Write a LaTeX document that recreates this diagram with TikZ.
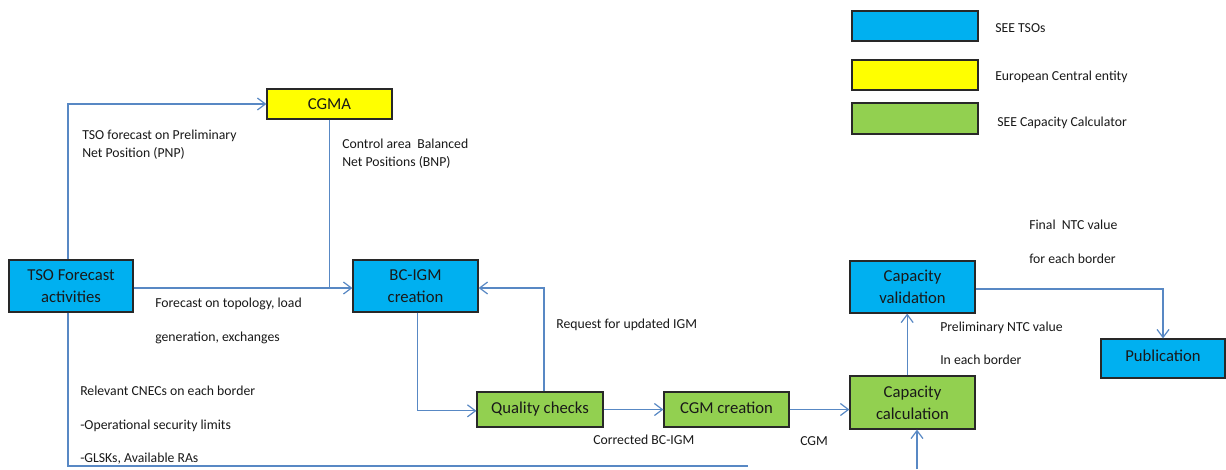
\documentclass[tikz,border=0pt]{standalone}
\usepackage{fontspec}
\setmainfont{Carlito}
\usetikzlibrary{arrows.meta,calc}
\definecolor{tsoblue}{RGB}{0,176,240}
\definecolor{cgyellow}{RGB}{255,255,0}
\definecolor{ccgreen}{RGB}{146,208,80}
\definecolor{linkblue}{RGB}{88,136,196}
\definecolor{txt}{RGB}{25,25,25}
\definecolor{edge}{RGB}{40,40,40}
\begin{document}
\begin{tikzpicture}[x=0.75pt,y=-0.75pt,
  box/.style={draw=edge, line width=0.9pt, text=txt, font=\fontsize{12.5}{16.5}\selectfont, align=center, inner sep=0pt},
  tsobox/.style={box, fill=tsoblue},
  centralbox/.style={box, fill=cgyellow},
  calcbox/.style={box, fill=ccgreen},
  conn/.style={draw=linkblue, line width=0.9pt, -{Straight Barb[length=6pt,width=9pt]}},
  link/.style={draw=linkblue, line width=0.9pt},
  lbl/.style={anchor=base west, inner sep=0pt, font=\fontsize{10.3}{12}\selectfont, text=txt},
]
\fill[white] (0,0) rectangle (1226,469);
\useasboundingbox (0,0) rectangle (1226,469);

% legend
\node[tsobox, minimum width=94.5pt, minimum height=22.5pt] (leg1) at (915,26) {};
\node[centralbox, minimum width=94.5pt, minimum height=22.5pt] (leg2) at (915,75) {};
\node[calcbox, minimum width=94.5pt, minimum height=23.25pt] (leg3) at (915,118.5) {};
\node[lbl] (legt1) at (995,32) {SEE TSOs};
\node[lbl] (legt2) at (995,80) {European Central entity};
\node[lbl] (legt3) at (997,126) {SEE Capacity Calculator};

% process boxes
\node[tsobox, minimum width=93pt, minimum height=39pt] (tso) at (71,286) {TSO Forecast\\activities};
\node[centralbox, minimum width=93.75pt, minimum height=22.5pt] (cgma) at (329.5,104) {CGMA};
\node[tsobox, minimum width=93.75pt, minimum height=39pt] (bcigm) at (415.5,286) {BC-IGM\\creation};
\node[calcbox, minimum width=94.5pt, minimum height=26.25pt] (qc) at (540,409.5) {\raisebox{2pt}{Quality checks}};
\node[calcbox, minimum width=93.75pt, minimum height=26.25pt] (cgm) at (726.5,409.5) {\raisebox{2pt}{CGM creation}};
\node[calcbox, minimum width=93.75pt, minimum height=39.75pt] (capcalc) at (912.5,402.5) {Capacity\\calculation};
\node[tsobox, minimum width=93.75pt, minimum height=39pt] (capval) at (912.5,287) {Capacity\\validation};
\node[tsobox, minimum width=93pt, minimum height=29.25pt] (pub) at (1163,358.5) {\raisebox{3.5pt}{Publication}};

% free ends
\coordinate (j1) at (330,288);
\coordinate (bend) at (748,466);
\coordinate (bin) at (917,469);

% connectors
\draw[conn] ([xshift=-2.25pt]tso.north) |- (cgma.west);
\draw[conn] ([yshift=-1.5pt]tso.east) -- ([yshift=-1.5pt]bcigm.west);
\draw[link] (cgma.south) -- (cgma.south |- j1);
\draw[conn] ([xshift=1.5pt]bcigm.south) |- ([yshift=-1pt]qc.west);
\draw[conn] ([xshift=3pt]qc.north) |- ([yshift=-1.5pt]bcigm.east);
\draw[conn] (qc.east) -- (cgm.west);
\draw[conn] (cgm.east) -- (cgm.east -| capcalc.west);
\draw[conn] ([xshift=-4pt]capcalc.north) -- ([xshift=-4pt]capval.south);
\draw[conn] ([yshift=-1.5pt]capval.east) -| (pub.north);
\draw[link] ([xshift=-2.25pt]tso.south) |- (bend);
\draw[conn] (bin) -- (bin |- capcalc.south);

% labels
\node[lbl] (l1a) at (82,139) {TSO forecast on Preliminary};
\node[lbl] (l1b) at (82,157) {Net Position (PNP)};
\node[lbl] (l2a) at (342,148) {Control area\ \ Balanced};
\node[lbl] (l2b) at (342,166) {Net Positions (BNP)};
\node[lbl] (l3a) at (155,307) {Forecast on topology,\ load};
\node[lbl] (l3b) at (155,341) {generation, exchanges};
\node[lbl] (l4) at (556,328) {Request for updated IGM};
\node[lbl] (l5a) at (80,395) {Relevant CNECs on each border};
\node[lbl] (l5b) at (80,429) {-Operational security limits};
\node[lbl] (l5c) at (80,462) {-GLSKs, Available RAs};
\node[lbl] (l6) at (593,444) {Corrected BC-IGM};
\node[lbl] (l7) at (800,445) {CGM};
\node[lbl] (l8a) at (940,331) {Preliminary NTC value};
\node[lbl] (l8b) at (940,364) {In each border};
\node[lbl] (l9a) at (1029,229) {Final\ \ NTC value};
\node[lbl] (l9b) at (1029,263) {for each border};
\end{tikzpicture}
\end{document}
